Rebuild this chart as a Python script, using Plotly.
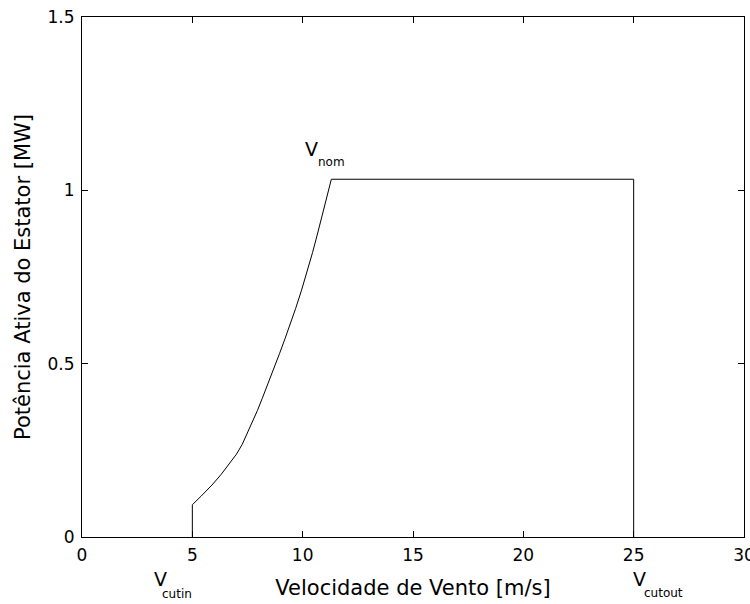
import plotly.graph_objects as go

# Wind speed [m/s] and stator active power [MW]
wind_speed = [5.0, 5.0, 5.4, 5.89, 6.3, 6.73, 7.0, 7.26, 7.71, 7.95, 8.17, 8.45,
              8.70, 8.95, 9.2, 9.45, 9.68, 9.95, 10.21, 10.45, 10.67, 10.85,
              11.05, 11.2, 11.3, 25.0, 25.0]
stator_power = [0.0, 0.093, 0.118, 0.150, 0.180, 0.215, 0.239, 0.267, 0.329, 0.365,
                0.400, 0.445, 0.487, 0.529, 0.572, 0.616, 0.659, 0.712, 0.767,
                0.821, 0.874, 0.919, 0.970, 1.009, 1.032, 1.032, 0.0]

v_cutin = 5.0
v_nom = 11.3
p_nom = 1.032
v_cutout = 25.0

x_ticks = [0, 5, 10, 15, 20, 25, 30]
y_ticks = [0, 0.5, 1, 1.5]
y_tick_text = ["0", "0.5", "1", "1.5"]

FONT = "DejaVu Sans"

fig = go.Figure()
fig.add_trace(go.Scatter(
    x=wind_speed, y=stator_power, mode="lines",
    line=dict(color="black", width=1),
    showlegend=False, hoverinfo="skip",
))

axis_common = dict(
    showline=True, linecolor="black", linewidth=1, mirror="ticks",
    ticks="inside", ticklen=6, tickcolor="black", tickwidth=1,
    showgrid=False, zeroline=False, automargin=False,
    ticklabelstandoff=3, ticklabeloverflow="allow",
    tickfont=dict(family=FONT, size=17, color="black"),
)

fig.update_layout(
    width=750, height=604,
    margin=dict(l=82, r=6, t=17, b=67),
    paper_bgcolor="white", plot_bgcolor="white",
    font=dict(family=FONT, color="black"),
    xaxis=dict(range=[0, 30], tickvals=x_ticks,
               title=dict(text="Velocidade de Vento [m/s]",
                          font=dict(family=FONT, size=21, color="black"),
                          standoff=15),
               **axis_common),
    yaxis=dict(range=[0, 1.5], tickvals=y_ticks, ticktext=y_tick_text,
               title=dict(text="Potência Ativa do Estator [MW]",
                          font=dict(family=FONT, size=21, color="black"),
                          standoff=11),
               **axis_common),
)

def label(x, yref_val, yref, main_dx, main_dy, sub, sub_dx, sub_dy):
    fig.add_annotation(x=x, y=yref_val, xref="x", yref=yref, text="V",
                       showarrow=False, xshift=main_dx, yshift=main_dy,
                       xanchor="center", yanchor="middle",
                       font=dict(family=FONT, size=19, color="black"))
    fig.add_annotation(x=x, y=yref_val, xref="x", yref=yref, text=sub,
                       showarrow=False, xshift=sub_dx, yshift=sub_dy,
                       xanchor="center", yanchor="middle",
                       font=dict(family=FONT, size=12, color="black"))

label(v_cutin, 0, "paper", -32, -42, "cutin", -15, -57)
label(v_cutout, 0, "paper", 6, -42, "cutout", 30, -56)
label(v_nom, p_nom, "y", -20, 30, "nom", 0, 17)

fig.write_html("out.html",
               config={"displayModeBar": False},
               post_script="document.body.style.margin='0';"
                           "document.body.style.overflow='hidden';")
